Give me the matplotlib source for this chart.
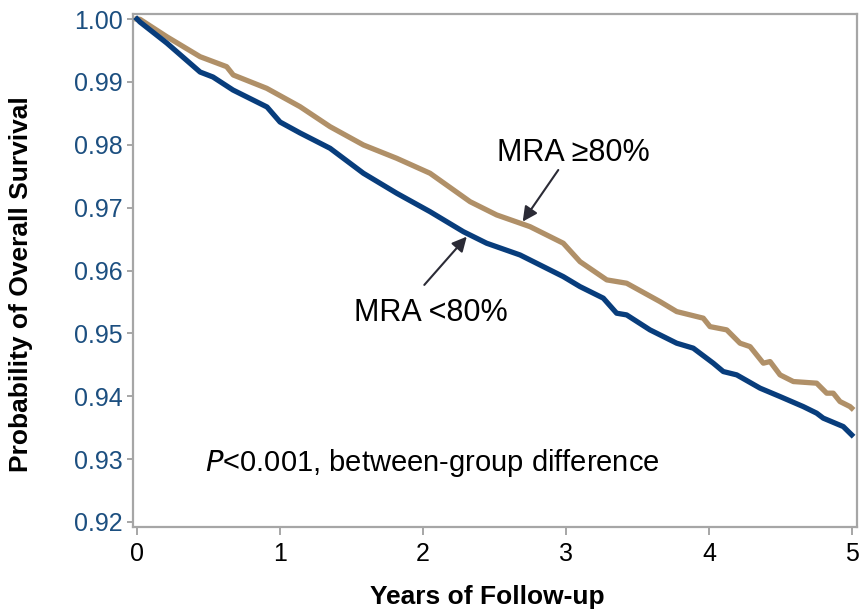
import matplotlib
matplotlib.use("Agg")
import matplotlib.pyplot as plt

plt.rcParams['font.family'] = ['Liberation Sans', 'DejaVu Sans']

# MRA <80% (blue)
t_low = [0.0, 0.021, 0.208, 0.441, 0.531, 0.671, 0.909, 1.0, 1.140, 1.350, 1.583, 1.816,
         2.049, 2.282, 2.445, 2.678, 2.981, 3.098, 3.261, 3.354, 3.424, 3.587, 3.774,
         3.890, 4.030, 4.100, 4.194, 4.357, 4.497, 4.659, 4.753, 4.799, 4.939, 4.998]
s_low = [1.0, 0.99952, 0.99618, 0.99157, 0.99078, 0.98871, 0.98601, 0.98362, 0.98188,
         0.97944, 0.97547, 0.97229, 0.96936, 0.96618, 0.96434, 0.96248, 0.95903, 0.95744,
         0.95560, 0.95321, 0.95294, 0.95056, 0.94844, 0.94765, 0.94526, 0.94393, 0.94340,
         0.94129, 0.93995, 0.93836, 0.93731, 0.93652, 0.93518, 0.93386]

# MRA >=80% (tan)
t_high = [0.0, 0.021, 0.208, 0.441, 0.627, 0.673, 0.907, 1.140, 1.350, 1.583, 1.816,
          2.049, 2.329, 2.515, 2.748, 2.981, 3.098, 3.285, 3.424, 3.657, 3.774, 3.960,
          4.007, 4.124, 4.217, 4.287, 4.380, 4.427, 4.497, 4.590, 4.753, 4.823, 4.869,
          4.916, 4.986, 4.998]
s_high = [1.0, 0.99995, 0.99719, 0.99401, 0.99242, 0.99110, 0.98898, 0.98606, 0.98288,
          0.97997, 0.97785, 0.97547, 0.97095, 0.96884, 0.96698, 0.96434, 0.96141, 0.95851,
          0.95798, 0.95506, 0.95347, 0.95242, 0.95108, 0.95056, 0.94844, 0.94790, 0.94526,
          0.94552, 0.94340, 0.94234, 0.94208, 0.94049, 0.94049, 0.93916, 0.93836, 0.93811]

xticks = [0, 1, 2, 3, 4, 5]
yticks = [0.92, 0.93, 0.94, 0.95, 0.96, 0.97, 0.98, 0.99, 1.00]

blue = '#083d7c'
tan = '#b09068'
grey = '#a6a6a6'
arrow_col = '#2b2b36'

fig = plt.figure(figsize=(8.6, 6.09), dpi=100)
ax = fig.add_axes([0.1547, 0.1346, 0.8418, 0.8424])

ax.plot(t_high, s_high, color=tan, lw=3.8, solid_joinstyle='round', zorder=3)
ax.plot(t_low, s_low, color=blue, lw=3.8, solid_joinstyle='round', zorder=3)

ax.set_xlim(-0.028, 5.035)
ax.set_ylim(0.9192, 1.0008)
ax.set_xticks(xticks)
ax.set_xticklabels([str(v) for v in xticks])
ax.set_yticks(yticks)
ax.set_yticklabels(['%.2f' % v for v in yticks])

for sp in ax.spines.values():
    sp.set_color(grey)
    sp.set_linewidth(1.6)

ax.tick_params(axis='y', direction='out', length=4.5, width=1.4, color=grey,
               labelsize=18, labelcolor='#1c4f80', pad=3)
ax.tick_params(axis='x', direction='out', length=6, width=1.4, color=grey,
               labelsize=18, labelcolor='black', pad=5)

ax.set_xlabel('Years of Follow-up', fontsize=19, fontweight='bold')
ax.set_ylabel('Probability of Overall Survival', fontsize=19, fontweight='bold')
ax.xaxis.set_label_coords(0.49, -0.113)
ax.yaxis.set_label_coords(-0.138, 0.474)

# annotations
ax.text(3.052, 0.9787, 'MRA \u226580%', fontsize=22, ha='center', va='center')
ax.annotate('', xy=(2.697, 0.96778), xytext=(2.946, 0.97599),
            arrowprops=dict(arrowstyle='-|>', color=arrow_col, lw=1.5,
                            mutation_scale=22, shrinkA=0, shrinkB=0))
ax.text(2.056, 0.95326, 'MRA <80%', fontsize=22, ha='center', va='center')
ax.annotate('', xy=(2.306, 0.96539), xytext=(2.009, 0.95771),
            arrowprops=dict(arrowstyle='-|>', color=arrow_col, lw=1.5,
                            mutation_scale=22, shrinkA=0, shrinkB=0))

ax.text(0.476, 0.92941, r'$\it{P}$<0.001, between-group difference',
        fontsize=21, ha='left', va='center')

fig.savefig('out.png', dpi=100)
